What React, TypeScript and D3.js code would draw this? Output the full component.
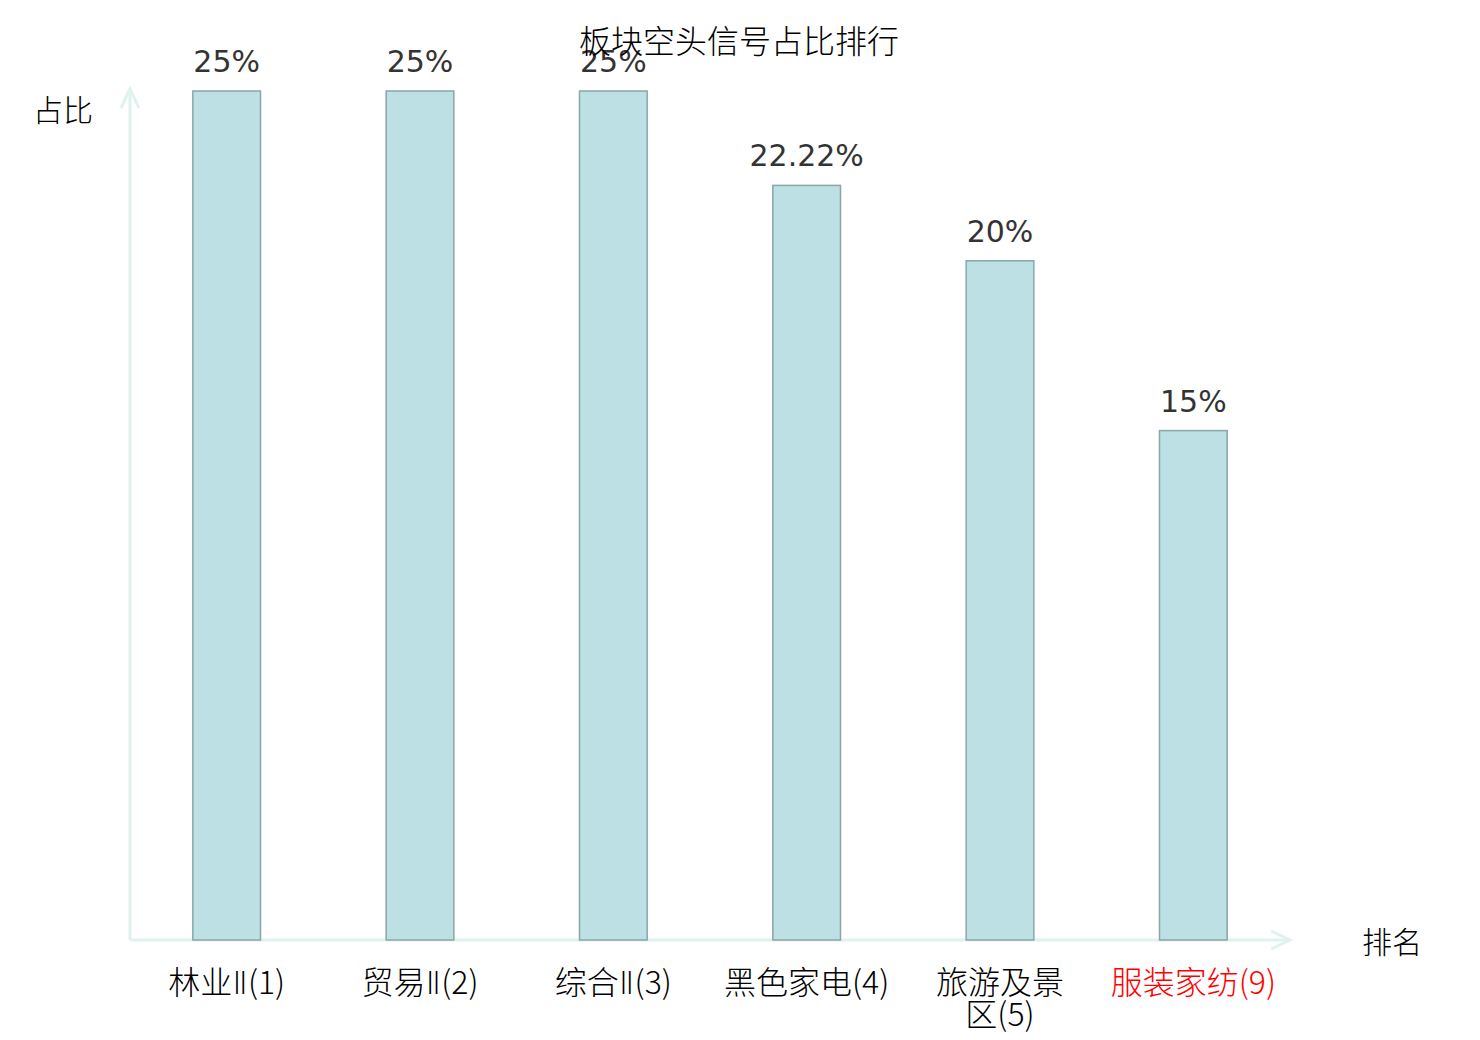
import React, { useEffect, useRef } from "react";
import * as d3 from "d3";

const title = "板块空头信号占比排行";
const categories = ["林业Ⅱ(1)", "贸易Ⅱ(2)", "综合Ⅱ(3)", "黑色家电(4)", "旅游及景区(5)", "服装家纺(9)"];
const values = [25, 25, 25, 22.22, 20, 15];
const highlighted = ["服装家纺(9)"];
const yAxisName = "占比";
const xAxisName = "排名";

const width = 1480;
const height = 1040;
const font = "'DejaVu Sans', 'Noto Sans CJK SC', sans-serif";
const cjkFont = "'Noto Sans CJK SC', sans-serif";

// wrap units: a CJK char together with any latin run after it
const tokens = (s: string) => s.match(/[\u4e00-\u9fff][^\u4e00-\u9fff]*|[^\u4e00-\u9fff]+/g) || [s];

type TextSel = d3.Selection<SVGTextElement, unknown, null, undefined>;

// the roman numeral is drawn narrow, as in the reference
const writeLine = (t: TextSel, str: string, cx: number, dy: number) => {
  const parts = str.match(/Ⅱ|[^Ⅱ]+/g) || [str];
  parts.forEach((p, i) => {
    const s = t.append("tspan").text(p);
    if (i === 0) s.attr("x", cx).attr("dy", dy);
    if (p === "Ⅱ") s.style("font-family", "'DejaVu Sans'").style("font-weight", 200);
  });
};

const App: React.FC = () => {
  const svgRef = useRef<SVGSVGElement | null>(null);

  useEffect(() => {
    if (!svgRef.current) return;
    const svg = d3.select(svgRef.current);
    svg.selectAll("*").remove();

    const left = 130;
    const right = 1290;
    const bottom = 940;
    const top = 91;

    const x = d3.scaleBand<string>().domain(categories).range([left, right]).paddingInner(0.65).paddingOuter(0.325);
    const y = d3.scaleLinear().domain([0, 25]).range([bottom, top]);

    const axisColor = "#dff2ef";

    // axes with arrows
    svg.append("line").attr("x1", left).attr("y1", bottom).attr("x2", left).attr("y2", 89)
      .attr("stroke", axisColor).attr("stroke-width", 3);
    svg.append("path").attr("d", `M${left - 9},${108} L${left},${89} L${left + 9},${108}`)
      .attr("fill", "none").attr("stroke", axisColor).attr("stroke-width", 3);
    svg.append("line").attr("x1", left).attr("y1", bottom).attr("x2", right).attr("y2", bottom)
      .attr("stroke", axisColor).attr("stroke-width", 3);
    svg.append("path").attr("d", `M${right - 19},${bottom - 9} L${right},${bottom} L${right - 19},${bottom + 9}`)
      .attr("fill", "none").attr("stroke", axisColor).attr("stroke-width", 3);

    // bars
    svg.append("g").selectAll("rect").data(values).join("rect")
      .attr("x", (_, i) => x(categories[i])!)
      .attr("y", (d) => y(d))
      .attr("width", x.bandwidth())
      .attr("height", (d) => bottom - y(d))
      .attr("fill", "#bce0e3")
      .attr("stroke", "#8aa6a6")
      .attr("stroke-width", 1.5);

    // value labels
    svg.append("g").selectAll("text").data(values).join("text")
      .attr("x", (_, i) => x(categories[i])! + x.bandwidth() / 2)
      .attr("y", (d) => y(d) - 19)
      .attr("text-anchor", "middle")
      .style("font-family", font)
      .style("font-size", "30px")
      .attr("fill", "#333")
      .text((d) => `${d}%`);

    // category labels, wrapped to band step
    const maxW = x.step() * 0.95;
    const labels = svg.append("g")
      .attr("text-anchor", "middle")
      .style("font-family", cjkFont)
      .style("font-size", "32px")
      .style("font-weight", 300);
    categories.forEach((c) => {
      const cx = x(c)! + x.bandwidth() / 2;
      const probe = labels.append("text");
      const lines: string[] = [];
      let line = "";
      for (const tk of tokens(c)) {
        probe.selectAll("*").remove();
        writeLine(probe, line + tk, 0, 0);
        if (probe.node()!.getBBox().width > maxW && line) {
          lines.push(line);
          line = tk;
        } else {
          line += tk;
        }
      }
      lines.push(line);
      probe.remove();

      const t = labels.append("text")
        .attr("x", cx)
        .attr("y", 994)
        .attr("fill", highlighted.includes(c) ? "#f00" : "#000");
      lines.forEach((l, i) => writeLine(t, l, cx, i === 0 ? 0 : 32));
    });

    // axis names
    svg.append("text").attr("x", 63).attr("y", 121).attr("text-anchor", "middle")
      .style("font-family", cjkFont).style("font-size", "30px").style("font-weight", 300).attr("fill", "#000").text(yAxisName);
    svg.append("text").attr("x", 1392).attr("y", 953).attr("text-anchor", "middle")
      .style("font-family", cjkFont).style("font-size", "30px").style("font-weight", 300).attr("fill", "#000").text(xAxisName);

    // title
    svg.append("text").attr("x", 739).attr("y", 53).attr("text-anchor", "middle")
      .style("font-family", cjkFont).style("font-size", "32px").style("font-weight", 300).attr("fill", "#000").text(title);
  }, []);

  return <svg ref={svgRef} width={width} height={height} style={{ position: "absolute", left: 0, top: 0 }} />;
};

export default App;
